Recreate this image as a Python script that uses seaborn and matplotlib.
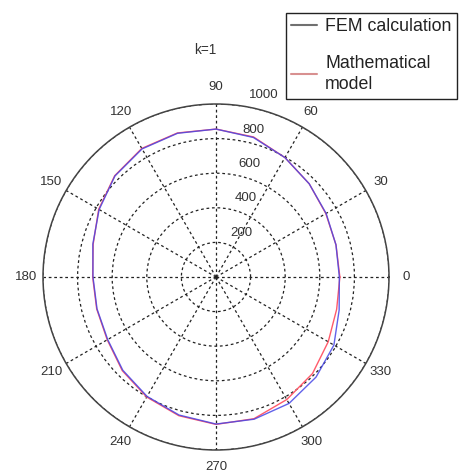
import numpy as np
import pandas as pd
import matplotlib
matplotlib.use("Agg")
import matplotlib.pyplot as plt
from matplotlib.lines import Line2D
from matplotlib.transforms import ScaledTranslation
import seaborn as sns

# ---- data ----
angles_deg = [0, 15, 30, 45, 60, 75, 90, 105, 120, 135, 150, 165,
              180, 195, 210, 225, 240, 255, 270, 285, 300, 315, 330, 345]
fem = [713, 718, 735, 762, 797, 835, 855, 860, 855, 826, 780, 737,
       711, 712, 723, 762, 797, 826, 850, 851, 844, 818, 787, 737]
model = [716, 718, 733, 762, 797, 838, 855, 862, 858, 828, 783, 735,
         713, 714, 726, 766, 801, 830, 852, 848, 818, 789, 749, 722]
series_names = ["FEM calculation", "Mathematical\nmodel"]
r_ticks = [200, 400, 600, 800]
r_max = 1000
theta_ticks = list(range(0, 360, 30))
title = "k=1"

# ---- build a long table (close each curve) ----
rows = []
for name, vals in zip(series_names, [fem, model]):
    a = list(angles_deg) + [360]
    v = list(vals) + [vals[0]]
    for ang, r in zip(a, v):
        rows.append({"theta": np.deg2rad(ang), "r": r, "series": name})
df = pd.DataFrame(rows)

sns.set_style("white")
plt.rcParams["font.family"] = ["Liberation Sans", "DejaVu Sans"]

W, H = 459, 474
fig = plt.figure(figsize=(W / 100, H / 100), dpi=100)
cx, cy, rad = 216, 277, 173
ax = fig.add_axes([(cx - rad) / W, 1 - (cy + rad) / H, 2 * rad / W, 2 * rad / H],
                  projection="polar")

line_colors = {"FEM calculation": "#4646e6", "Mathematical\nmodel": "#ff5a6a"}
sns.lineplot(data=df[df.series == series_names[1]], x="theta", y="r", hue="series",
             palette=line_colors, ax=ax, legend=False, sort=True, lw=1.0,
             estimator=None)
sns.lineplot(data=df[df.series == series_names[0]], x="theta", y="r", hue="series",
             palette=line_colors, ax=ax, legend=False, sort=True, lw=1.0,
             estimator=None, alpha=0.85)

ax.set_ylim(0, r_max)
ax.set_xlabel("")
ax.set_ylabel("")
ax.set_xticks(np.deg2rad(theta_ticks))
ax.set_xticklabels([str(t) for t in theta_ticks])
ax.set_yticks(r_ticks + [r_max])
ax.set_yticklabels([str(t) for t in r_ticks + [r_max]])
ax.set_rlabel_position(83)
ax.grid(True, color="#222222", linestyle=(0, (2.2, 2.2)), linewidth=0.9)
ax.spines["polar"].set_color("#444444")
ax.spines["polar"].set_linewidth(1.1)
ax.tick_params(axis="x", pad=2, labelsize=9.5, colors="#333333")
ax.tick_params(axis="y", labelsize=9.5, colors="#333333")

fig.canvas.draw()
for lab in ax.get_yticklabels():
    lab.set_horizontalalignment("left")
    lab.set_verticalalignment("center")
    lab.set_color("#333333")
    dx = 12 if lab.get_text() == str(r_max) else 10
    lab.set_transform(lab.get_transform() +
                      ScaledTranslation(dx / 100, 10 / 100, fig.dpi_scale_trans))

fig.text(205 / W, 1 - 50 / H, title, ha="center", va="center", fontsize=9.8,
         color="#333333")

handles = [Line2D([], [], color="#707070", lw=1.5),
           Line2D([], [], color="#d89090", lw=1.5)]
leg = fig.legend(handles, series_names, loc="upper left",
                 bbox_to_anchor=(286 / W, 1 - 13 / H), frameon=True,
                 fancybox=False, framealpha=1, edgecolor="#222222",
                 fontsize=12.8, handlelength=1.45, handletextpad=0.45,
                 labelspacing=1.1, borderpad=0.3, borderaxespad=0)
leg.get_frame().set_linewidth(1.0)
for t in leg.get_texts():
    t.set_color("#222222")
    t.set_linespacing(1.35)

fig.savefig("out.png", dpi=100, facecolor="white")
